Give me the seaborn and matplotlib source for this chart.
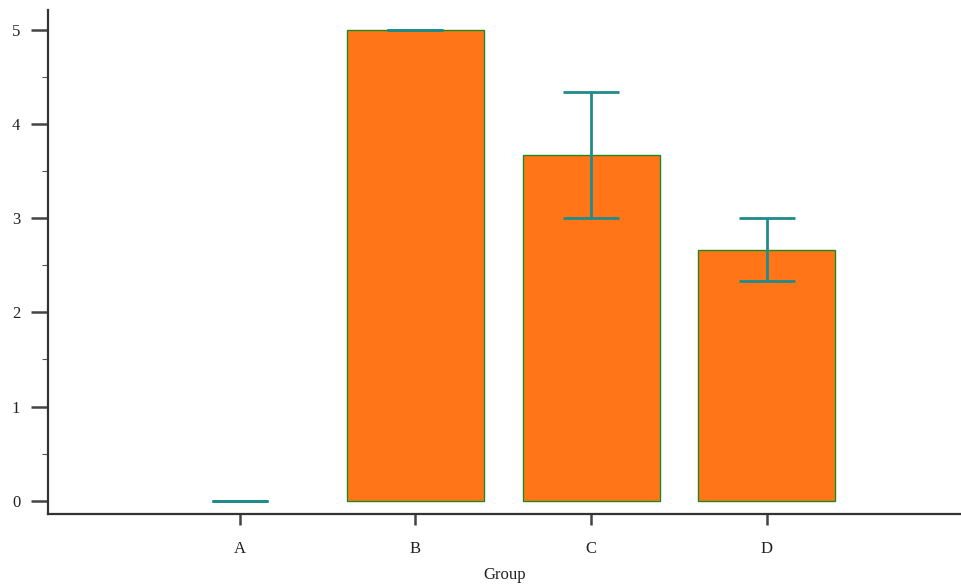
import matplotlib
matplotlib.use("Agg")
import matplotlib.pyplot as plt
import seaborn as sns
import pandas as pd
import numpy as np
from matplotlib.ticker import MultipleLocator

groups = ["A", "B", "C", "D"]
means = [0.0, 5.0, 3.667, 2.667]
err_lower = [0.0, 0.0, 0.667, 0.333]
err_upper = [0.0, 0.0, 0.667, 0.333]

sns.set_style("white")
plt.rcParams['font.family'] = ['Liberation Serif', 'DejaVu Serif']

df = pd.DataFrame({"Group": groups, "Value": means})

fig = plt.figure(figsize=(9.62, 5.84), dpi=100)
ax = fig.add_axes([0.0499, 0.1199, 0.9501, 0.8631])

sns.barplot(data=df, x="Group", y="Value", ax=ax, color="#ff7518",
            saturation=1, width=0.78, edgecolor="#1e8a1e", linewidth=1.0,
            errorbar=None)
for p in ax.patches:
    if p.get_height() == 0:
        p.set_linewidth(0)

xs = np.arange(len(groups))
ax.errorbar(xs, means, yerr=[err_lower, err_upper], fmt="none",
            ecolor="#1f8b8b", elinewidth=2.0, capsize=20, capthick=2.0, zorder=5)

ax.set_xlim(-1.09, 4.11)
ax.set_ylim(-0.14, 5.21)
ax.yaxis.set_major_locator(MultipleLocator(1))
ax.yaxis.set_minor_locator(MultipleLocator(0.5))

for s in ["top", "right"]:
    ax.spines[s].set_visible(False)
for s in ["left", "bottom"]:
    ax.spines[s].set_color("#333333")
    ax.spines[s].set_linewidth(1.6)

ax.tick_params(axis="x", which="major", bottom=True, direction="out", length=8,
               width=1.8, color="#444444", labelsize=12, labelcolor="#222222", pad=11.5)
ax.tick_params(axis="y", which="major", left=True, direction="out", length=12,
               width=1.8, color="#444444", labelsize=12, labelcolor="#222222", pad=8)
ax.tick_params(axis="y", which="minor", direction="out", length=4.5, width=0.8,
               color="#555555", left=True)
ax.set_ylabel("")
ax.set_xlabel("Group", fontsize=12, color="#222222", labelpad=7.5)

fig.savefig("out.png", dpi=100)
